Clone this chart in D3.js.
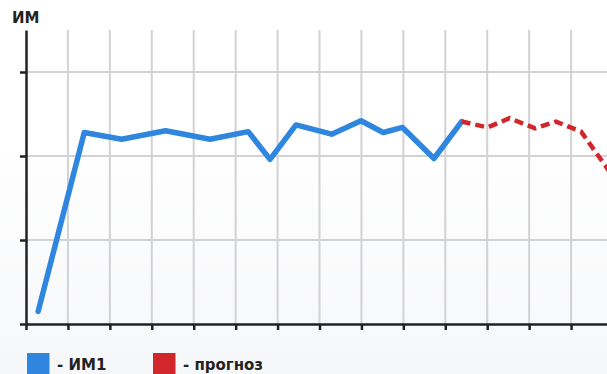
<!DOCTYPE html>
<html>
<head>
<meta charset="utf-8">
<script src="https://cdn.jsdelivr.net/npm/d3@7"></script>
<style>
  html, body { margin: 0; padding: 0; }
  body { width: 607px; height: 374px; overflow: hidden; }
  svg { display: block; }
  text { font-family: "DejaVu Sans", sans-serif; font-weight: bold; fill: #222; }
</style>
</head>
<body>
<svg id="chart" width="607" height="374"></svg>
<script>
// Period index (one grid column per period) and values of ИМ1
const imX = [0.29, 1.39, 2.28, 3.33, 4.39, 5.30, 5.82, 6.44, 7.29, 7.99, 8.52, 8.98, 9.73, 10.39];
const imY = [0.15, 2.28, 2.20, 2.30, 2.20, 2.29, 1.96, 2.37, 2.26, 2.42, 2.28, 2.34, 1.97, 2.41];

// Forecast continuing from the last measured point
const fcX = [10.39, 11.01, 11.53, 12.14, 12.64, 13.24, 13.81, 14.38];
const fcY = [2.41, 2.34, 2.45, 2.33, 2.41, 2.29, 1.89, 1.48];

const xTickValues = d3.range(0, 15);
const yTickValues = [0, 1, 2, 3];
const legendLabels = ["- ИМ1", "- прогноз"];
const yTitle = "ИМ";

const svg = d3.select("#chart");
const W = 607, H = 374;

// soft background shading toward the bottom
const defs = svg.append("defs");
const grad = defs.append("linearGradient").attr("id", "bg").attr("x1", 0).attr("y1", 0).attr("x2", 0).attr("y2", 1);
grad.append("stop").attr("offset", "0%").attr("stop-color", "#ffffff");
grad.append("stop").attr("offset", "35%").attr("stop-color", "#ffffff");
grad.append("stop").attr("offset", "100%").attr("stop-color", "#f6f7f9");
svg.append("rect").attr("width", W).attr("height", H).attr("fill", "url(#bg)");

const x = d3.scaleLinear().domain([0, 14]).range([26, 613]);
const y = d3.scaleLinear().domain([0, 3.5]).range([324, 30]);

// grid
const grid = svg.append("g");
grid.selectAll("line.v").data(xTickValues.filter(d => d > 0)).join("line")
  .attr("x1", d => x(d)).attr("x2", d => x(d))
  .attr("y1", y(3.5)).attr("y2", y(0))
  .attr("stroke", "#d2d2d6").attr("stroke-width", 2);
grid.selectAll("line.h").data(yTickValues.filter(d => d > 0)).join("line")
  .attr("x1", x(0)).attr("x2", W)
  .attr("y1", d => y(d)).attr("y2", d => y(d))
  .attr("stroke", "#d2d2d6").attr("stroke-width", 2);

// axes
const yAxis = svg.append("g").attr("transform", `translate(${x(0)},0)`)
  .call(d3.axisLeft(y).tickValues(yTickValues).tickSize(6).tickSizeOuter(0).tickFormat(""));
const xAxis = svg.append("g").attr("transform", `translate(0,${y(0)})`)
  .call(d3.axisBottom(x).tickValues(xTickValues).tickSize(6).tickSizeOuter(0).tickFormat(""));
[yAxis, xAxis].forEach(g => {
  g.select(".domain").attr("stroke", "#222").attr("stroke-width", 2.5);
  g.selectAll(".tick line").attr("stroke", "#222").attr("stroke-width", 2.5);
});

// series
const line = d3.line().x(d => x(d[0])).y(d => y(d[1]));
svg.append("path")
  .datum(imX.map((v, i) => [v, imY[i]]))
  .attr("d", line)
  .attr("fill", "none").attr("stroke", "#2e86df").attr("stroke-width", 5.5)
  .attr("stroke-linejoin", "round").attr("stroke-linecap", "round");
svg.append("path")
  .datum(fcX.map((v, i) => [v, fcY[i]]))
  .attr("d", line)
  .attr("fill", "none").attr("stroke", "#d1262b").attr("stroke-width", 4.5)
  .attr("stroke-dasharray", "9,5");

// y title
svg.append("text").attr("x", 12).attr("y", 22.5).attr("font-size", 15).text(yTitle);

// legend
const legendColors = ["#2e86df", "#d1262b"];
const legendX = [27, 153];
const lg = svg.append("g");
legendLabels.forEach((lab, i) => {
  lg.append("rect").attr("x", legendX[i]).attr("y", 353).attr("width", 22.5).attr("height", 22).attr("fill", legendColors[i]);
  lg.append("text").attr("x", legendX[i] + 30).attr("y", 369.5).attr("font-size", 15).text(lab);
});
</script>
</body>
</html>
